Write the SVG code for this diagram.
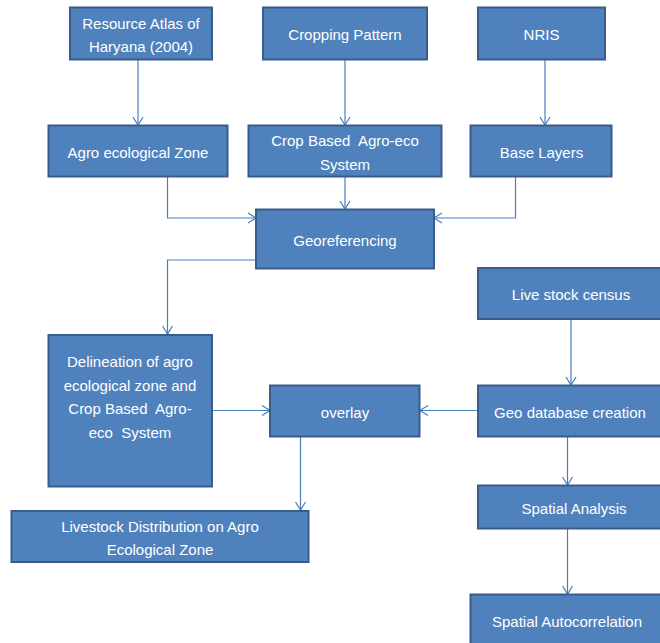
<svg xmlns="http://www.w3.org/2000/svg" width="660" height="643" viewBox="0 0 660 643">
<style>
.box{fill:#4F81BD;stroke:#385D8A;stroke-width:2}
.t{font-family:"Liberation Sans",Arial,sans-serif;font-size:15px;fill:#FFFFFF;text-anchor:middle;white-space:pre}
.c{fill:none;stroke:#4A7EBB;stroke-width:1.2}
</style>
<defs>
<marker id="a" markerUnits="userSpaceOnUse" markerWidth="12" markerHeight="12" refX="0" refY="0" viewBox="-10 -6 12 12" orient="auto">
<path d="M-8,-5 L0,0 L-8,5" fill="none" stroke="#4A7EBB" stroke-width="1.2"/>
</marker>
</defs>
<rect width="660" height="643" fill="#FFFFFF"/>
<g id="connectors">
<path class="c" d="M138,60 V125" marker-end="url(#a)"/>
<path class="c" d="M345,60 V125" marker-end="url(#a)"/>
<path class="c" d="M545,60 V125" marker-end="url(#a)"/>
<path class="c" d="M167.5,177 V218 H256" marker-end="url(#a)"/>
<path class="c" d="M345,177 V209" marker-end="url(#a)"/>
<path class="c" d="M515.5,177 V218 H434" marker-end="url(#a)"/>
<path class="c" d="M256,260 H167.5 V334" marker-end="url(#a)"/>
<path class="c" d="M571,319 V385" marker-end="url(#a)"/>
<path class="c" d="M212,410.5 H270" marker-end="url(#a)"/>
<path class="c" d="M478,410.5 H420" marker-end="url(#a)"/>
<path class="c" d="M300.5,437 V510" marker-end="url(#a)"/>
<path class="c" d="M567.5,437 V485" marker-end="url(#a)"/>
<path class="c" d="M567.5,529 V594" marker-end="url(#a)"/>
</g>
<g id="resource-atlas"><rect class="box" x="70" y="7.5" width="142" height="52"/><text class="t" x="141" y="28.5">Resource Atlas of</text><text class="t" x="141" y="52">Haryana (2004)</text></g>
<g id="cropping-pattern"><rect class="box" x="263" y="7.5" width="164" height="52"/><text class="t" x="345" y="39.5">Cropping Pattern</text></g>
<g id="nris"><rect class="box" x="478" y="7.5" width="127" height="52"/><text class="t" x="541.5" y="39.5">NRIS</text></g>
<g id="agro-zone"><rect class="box" x="48.5" y="125.5" width="179" height="51"/><text class="t" x="138" y="157.5">Agro ecological Zone</text></g>
<g id="crop-based"><rect class="box" x="248.5" y="125.5" width="193" height="51"/><text class="t" x="345" y="146">Crop Based  Agro-eco</text><text class="t" x="345" y="169.5">System</text></g>
<g id="base-layers"><rect class="box" x="470.5" y="125.5" width="141" height="51"/><text class="t" x="541.5" y="157.5">Base Layers</text></g>
<g id="georeferencing"><rect class="box" x="256" y="209.5" width="178" height="59"/><text class="t" x="345" y="245.5">Georeferencing</text></g>
<g id="livestock-census"><rect class="box" x="478" y="268" width="184" height="51"/><text class="t" x="571" y="299.5">Live stock census</text></g>
<g id="delineation"><rect class="box" x="48.5" y="335" width="163.5" height="151.5"/><text class="t" x="130" y="367">Delineation of agro</text><text class="t" x="130" y="390.5">ecological zone and</text><text class="t" x="130" y="414">Crop Based  Agro-</text><text class="t" x="130" y="437.5">eco  System</text></g>
<g id="overlay"><rect class="box" x="270" y="385.5" width="149.5" height="51"/><text class="t" x="345" y="417.5">overlay</text></g>
<g id="geo-database"><rect class="box" x="478" y="385.5" width="184" height="51"/><text class="t" x="570" y="417.5">Geo database creation</text></g>
<g id="livestock-distribution"><rect class="box" x="11.5" y="511" width="297" height="51"/><text class="t" x="160" y="531.5">Livestock Distribution on Agro</text><text class="t" x="160" y="554.5">Ecological Zone</text></g>
<g id="spatial-analysis"><rect class="box" x="478" y="485.5" width="184" height="43"/><text class="t" x="574" y="513.5">Spatial Analysis</text></g>
<g id="spatial-autocorrelation"><rect class="box" x="470.5" y="594.5" width="192" height="52"/><text class="t" x="567" y="626.5">Spatial Autocorrelation</text></g>
</svg>
